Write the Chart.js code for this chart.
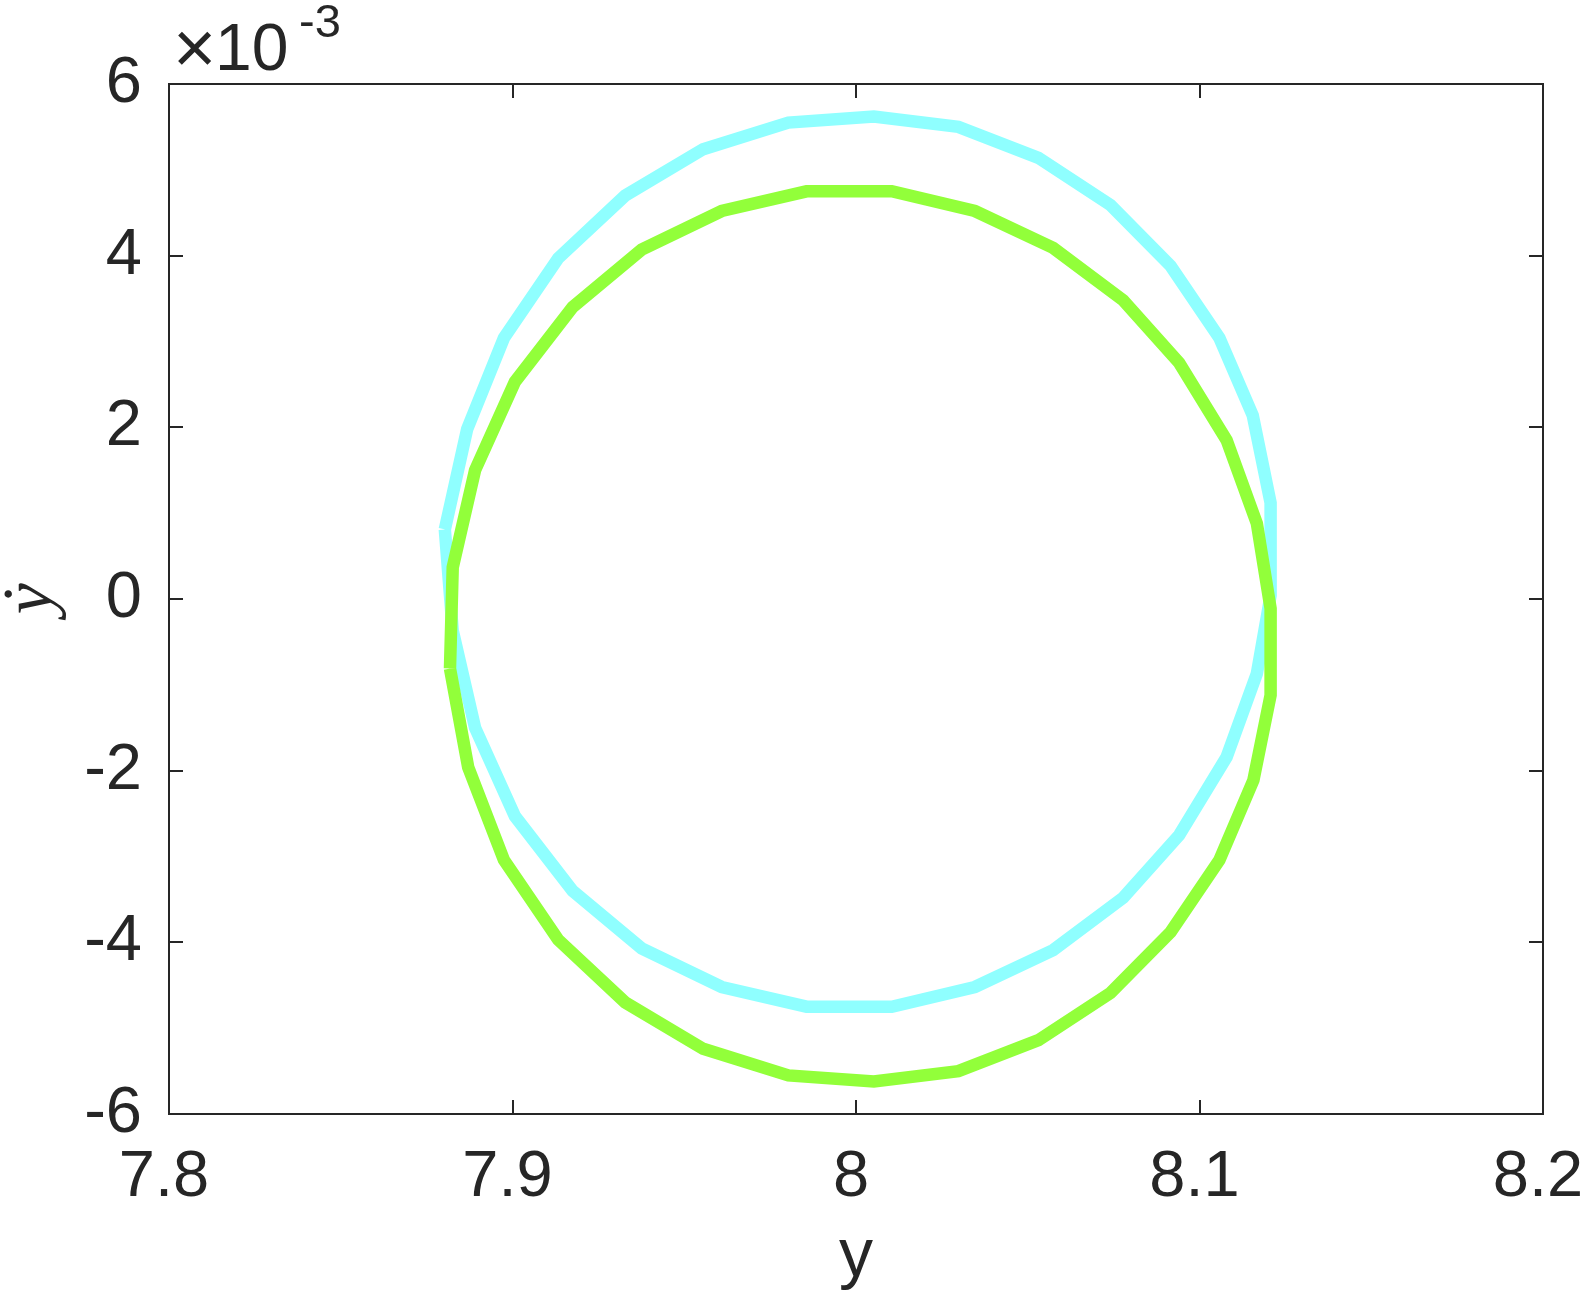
<!DOCTYPE html>
<html>
<head>
<title>Phase portrait</title>
<script src="https://cdn.jsdelivr.net/npm/chart.js"></script>
<style>
  body { margin: 0; background: #ffffff; }
</style>
</head>
<body>
<canvas id="myChart" width="1587" height="1295"></canvas>
<script>
// y on the x axis, y-dot on the y axis (y-dot in units of 1e-3)
const cyanY = [7.8803, 7.8868, 7.8975, 7.9133, 7.9328, 7.9555, 7.9803, 8.0052, 8.0298, 8.0531,
  8.0741, 8.0916, 8.1058, 8.1155, 8.1207, 8.1207, 8.1167, 8.1079, 8.0941, 8.0778,
  8.0574, 8.0346, 8.0104, 7.9856, 7.9609, 7.9376, 7.9175, 7.9007, 7.8891, 7.8826];
const cyanYdot = [0.81, 1.98, 3.04, 3.97, 4.70, 5.24, 5.55, 5.62, 5.50, 5.14,
  4.59, 3.88, 3.04, 2.14, 1.12, 0.04, -0.87, -1.84, -2.75, -3.48,
  -4.09, -4.52, -4.75, -4.75, -4.52, -4.07, -3.40, -2.53, -1.50, -0.37];

const greenY = [7.8818, 7.8871, 7.8975, 7.9133, 7.9328, 7.9555, 7.9803, 8.0052, 8.0298, 8.0531,
  8.0741, 8.0916, 8.1058, 8.1157, 8.1207, 8.1207, 8.1167, 8.1079, 8.0941, 8.0778,
  8.0574, 8.0346, 8.0104, 7.9856, 7.9609, 7.9376, 7.9175, 7.9007, 7.8891, 7.8826];
const greenYdot = [-0.81, -1.96, -3.04, -3.97, -4.70, -5.24, -5.55, -5.62, -5.50, -5.14,
  -4.59, -3.88, -3.04, -2.11, -1.12, -0.11, 0.88, 1.85, 2.75, 3.48,
  4.09, 4.52, 4.75, 4.75, 4.52, 4.07, 3.40, 2.53, 1.50, 0.37];

const xTicks = [7.8, 7.9, 8, 8.1, 8.2];
const yTicks = [-6, -4, -2, 0, 2, 4, 6];
const xLabel = 'y';
const yLabel = '\u1E8F';
const yExponent = '-3';

const textColor = '#262626';
const sansFont = '"Liberation Sans", Arial, Helvetica, sans-serif';

function loop(xs, ys) {
  const pts = xs.map((v, i) => ({ x: v, y: ys[i] }));
  pts.push({ x: xs[0], y: ys[0] }); // close the orbit
  return pts;
}

// MATLAB style box with inward ticks, plus the x10^-3 multiplier
const boxPlugin = {
  id: 'matlabBox',
  afterDatasetsDraw(chart) {
    const { ctx, chartArea: a, scales } = chart;
    const tl = 14;
    ctx.save();
    ctx.strokeStyle = textColor;
    ctx.lineWidth = 2;
    ctx.beginPath();
    xTicks.forEach(v => {
      const px = Math.round(scales.x.getPixelForValue(v));
      ctx.moveTo(px, a.bottom); ctx.lineTo(px, a.bottom - tl);
      ctx.moveTo(px, a.top); ctx.lineTo(px, a.top + tl);
    });
    yTicks.forEach(v => {
      const py = Math.round(scales.y.getPixelForValue(v));
      ctx.moveTo(a.left, py); ctx.lineTo(a.left + tl, py);
      ctx.moveTo(a.right, py); ctx.lineTo(a.right - tl, py);
    });
    ctx.stroke();
    ctx.strokeRect(a.left, a.top, a.right - a.left, a.bottom - a.top);

    ctx.fillStyle = textColor;
    ctx.textAlign = 'left';
    ctx.textBaseline = 'alphabetic';
    ctx.font = '74px ' + sansFont;
    ctx.fillText('\u00D7', 173, 73);
    ctx.font = '66px ' + sansFont;
    ctx.fillText('10', 215, 70);
    ctx.font = '47px ' + sansFont;
    ctx.fillText(yExponent, 299, 37);
    ctx.restore();
  }
};

const ctx = document.getElementById('myChart').getContext('2d');

new Chart(ctx, {
  type: 'scatter',
  data: {
    datasets: [{
      label: 'green',
      data: loop(greenY, greenYdot),
      showLine: true,
      borderColor: '#92ff3a',
      backgroundColor: '#92ff3a',
      borderWidth: 12.5,
      pointRadius: 0,
      tension: 0,
      fill: false,
      order: 1
    }, {
      label: 'cyan',
      data: loop(cyanY, cyanYdot),
      showLine: true,
      borderColor: '#8fffff',
      backgroundColor: '#8fffff',
      borderWidth: 12.5,
      pointRadius: 0,
      tension: 0,
      fill: false,
      order: 2
    }]
  },
  options: {
    responsive: false,
    devicePixelRatio: 1,
    animation: false,
    layout: { padding: { left: 0, top: 84, right: 44, bottom: 0 } },
    plugins: {
      legend: { display: false },
      tooltip: { enabled: false }
    },
    scales: {
      x: {
        type: 'linear',
        position: 'bottom',
        min: 7.8,
        max: 8.2,
        grid: { display: false, drawTicks: false },
        border: { display: false },
        afterBuildTicks: s => { s.ticks = xTicks.map(v => ({ value: v })); },
        afterFit: s => {
          s.height = 181;
          s.paddingLeft = 0; s.paddingRight = 0; s.paddingTop = 0; s.paddingBottom = 0;
        },
        ticks: {
          color: textColor,
          padding: 25,
          labelOffset: -5,
          maxRotation: 0,
          autoSkip: false,
          font: { family: sansFont, size: 65 },
          callback: v => String(v)
        },
        title: {
          display: true,
          text: xLabel,
          color: textColor,
          padding: { top: 0, bottom: -3 },
          font: { family: sansFont, size: 68 }
        }
      },
      y: {
        type: 'linear',
        position: 'left',
        min: -6,
        max: 6,
        grid: { display: false, drawTicks: false },
        border: { display: false },
        afterBuildTicks: s => { s.ticks = yTicks.map(v => ({ value: v })); },
        afterFit: s => {
          s.width = 169;
          s.paddingLeft = 0; s.paddingRight = 0; s.paddingTop = 0; s.paddingBottom = 0;
        },
        ticks: {
          color: textColor,
          padding: 27,
          autoSkip: false,
          font: { family: sansFont, size: 65 },
          callback: v => String(v)
        },
        title: {
          display: true,
          text: yLabel,
          color: textColor,
          padding: { top: 5 },
          font: { family: '"Liberation Serif", "DejaVu Serif", serif', size: 70, style: 'italic', lineHeight: 0.8 }
        }
      }
    }
  },
  plugins: [boxPlugin]
});
</script>
</body>
</html>
